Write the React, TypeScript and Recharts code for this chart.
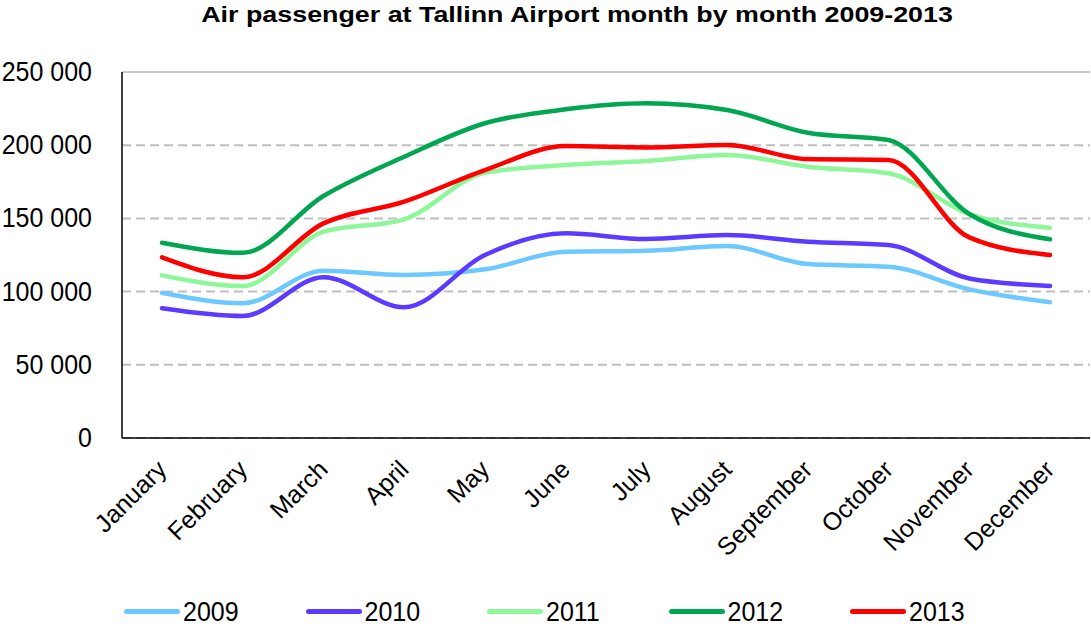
import React from "react";
import { LineChart, Line, XAxis, YAxis, CartesianGrid, ReferenceLine } from "recharts";

const months = ["January","February","March","April","May","June","July","August","September","October","November","December"];
const s2009 = [99200, 92000, 114300, 111300, 115200, 127200, 127900, 131100, 118800, 117000, 101500, 92700];
const s2010 = [88600, 83300, 109800, 89300, 125000, 139800, 135900, 138600, 134100, 131800, 109000, 103800];
const s2011 = [111100, 103800, 140900, 149400, 181200, 186500, 189200, 193300, 185300, 180800, 153000, 143600];
const s2012 = [133400, 126500, 165300, 192100, 215000, 224500, 228600, 224000, 208500, 203500, 153000, 135700];
const s2013 = [123400, 109800, 146600, 161400, 183000, 199400, 198500, 200100, 190500, 189900, 137000, 125000];
const yTicks = [0, 50000, 100000, 150000, 200000, 250000];

const seriesDefs = [
  { key: "2009", values: s2009, color: "#6CC8FF" },
  { key: "2010", values: s2010, color: "#5B3BFF" },
  { key: "2011", values: s2011, color: "#8DF79A" },
  { key: "2012", values: s2012, color: "#00A650" },
  { key: "2013", values: s2013, color: "#FF0000" },
];

const data = months.map((m, i) => {
  const row: any = { month: m };
  seriesDefs.forEach((s) => { row[s.key] = s.values[i]; });
  return row;
});

const FONT = "'Liberation Sans', Arial, sans-serif";

const fmt = (v: number) => (v === 0 ? "0" : String(v).replace(/\B(?=(\d{3})+(?!\d))/g, " "));

const YTick = (props: any) => {
  const { x, y, payload } = props;
  return (
    <text x={x - 22} y={y} dy={8} textAnchor="end" fontSize={25} fill="#000" fontFamily={FONT}
      transform={`translate(0, ${y}) scale(1, 1.12) translate(0, ${-y})`}>
      {fmt(payload.value)}
    </text>
  );
};

const XTick = (props: any) => {
  const { x, y, payload } = props;
  return (
    <g transform={`translate(${x + 6},${y + 25})`}>
      <text x={0} y={0} textAnchor="end" transform="rotate(-45)" fontSize={25} fill="#000" fontFamily={FONT}>
        {payload.value}
      </text>
    </g>
  );
};

export default function App() {
  return (
    <div style={{ position: "absolute", left: 0, top: 0, width: 1091, height: 627, background: "#fff", fontFamily: FONT }}>
      <div style={{ position: "absolute", left: 0, width: 1154, top: 2, textAlign: "center", color: "#000" }}>
        <span style={{ display: "inline-block", fontWeight: "bold", fontSize: 22, transform: "scaleX(1.22)" }}>
          Air passenger at Tallinn Airport month by month 2009-2013
        </span>
      </div>
      <LineChart width={1091} height={627} data={data} margin={{ top: 72, right: 1, left: 0, bottom: 0 }}>
        <CartesianGrid vertical={false} stroke="#BFBFBF" strokeDasharray="9 5" strokeWidth={2} />
        <ReferenceLine y={250000} stroke="#C8C8C8" strokeWidth={2} />
        <XAxis dataKey="month" height={189} tickLine={false} interval={0} tick={<XTick />} padding={{ left: 40, right: 40 }} axisLine={{ stroke: "#000", strokeWidth: 1.5 }} />
        <YAxis width={122} domain={[0, 250000]} ticks={yTicks} tickLine={false} tick={<YTick />} axisLine={{ stroke: "#000", strokeWidth: 1.5 }} />
        <YAxis yAxisId="r" orientation="right" width={0} domain={[0, 250000]} tick={false} tickLine={false} axisLine={{ stroke: "#C8C8C8", strokeWidth: 2 }} />
        {seriesDefs.map((s) => (
          <Line key={s.key} dataKey={s.key} type="monotone" stroke={s.color} strokeWidth={4.5} dot={false} isAnimationActive={false} strokeLinecap="round" />
        ))}
      </LineChart>
      <div style={{ position: "absolute", left: 0, top: 596, width: 1091, height: 31 }}>
        {seriesDefs.map((s, i) => (
          <div key={s.key} style={{ position: "absolute", left: 124 + i * 181.5, top: 0, display: "flex", alignItems: "center", height: 31 }}>
            <div style={{ width: 56, height: 5, borderRadius: 3, background: s.color }} />
            <span style={{ fontSize: 25, color: "#000", marginLeft: 3, display: "inline-block", transform: "scaleY(1.12)" }}>{s.key}</span>
          </div>
        ))}
      </div>
    </div>
  );
}
